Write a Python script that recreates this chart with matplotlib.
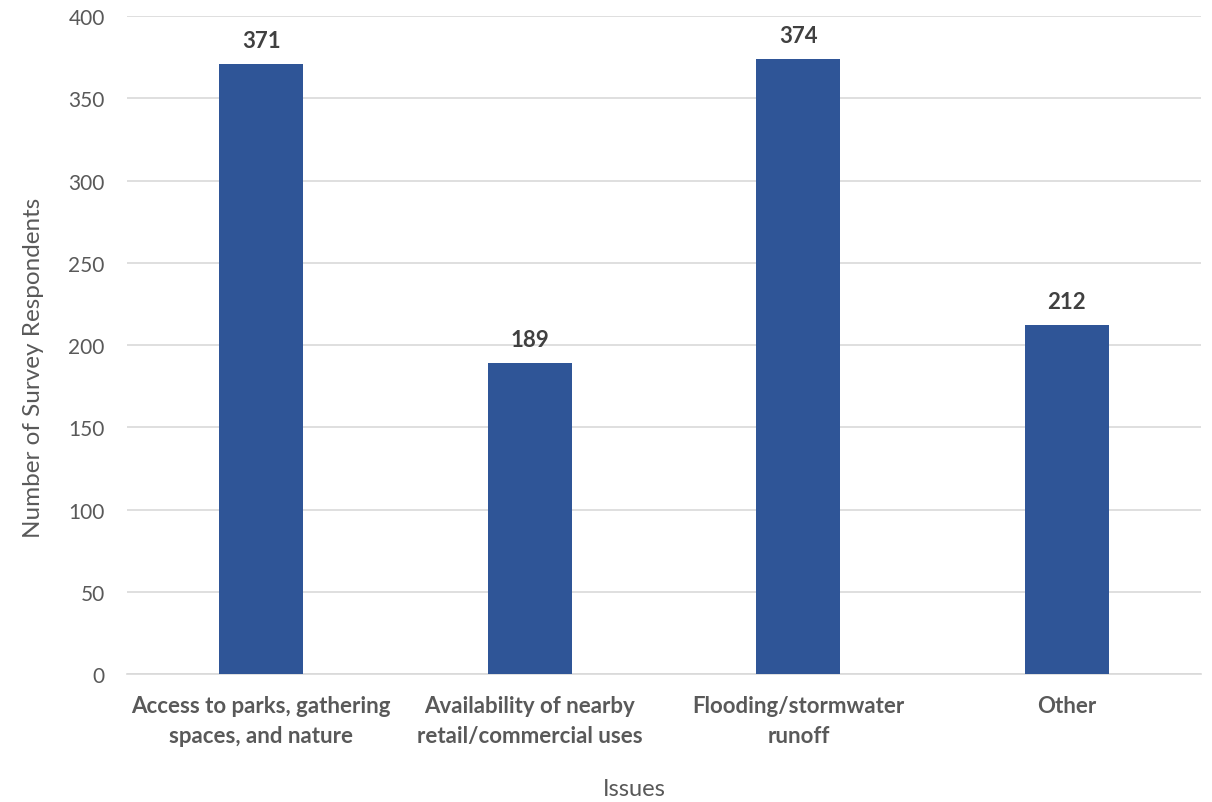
import matplotlib.pyplot as plt

categories = [
    "Access to parks, gathering\nspaces, and nature",
    "Availability of nearby\nretail/commercial uses",
    "Flooding/stormwater\nrunoff",
    "Other",
]
respondents = [371, 189, 374, 212]
y_ticks = [0, 50, 100, 150, 200, 250, 300, 350, 400]

plt.rcParams["font.family"] = ["Lato", "DejaVu Sans"]
TEXT = "#595959"

fig = plt.figure(figsize=(12.12, 8.03), dpi=100)
ax = fig.add_axes([0.1048, 0.1594, 0.8862, 0.8194])

x = range(len(categories))
bars = ax.bar(x, respondents, width=0.313, color="#2F5597", zorder=3)

for rect, val in zip(bars, respondents):
    ax.text(rect.get_x() + rect.get_width() / 2, val + 8, str(val),
            ha="center", va="bottom", fontsize=16, fontweight="bold", color="#404040")

ax.set_xlim(-0.5, len(categories) - 0.5)
ax.set_ylim(0, 400)
ax.set_yticks(y_ticks)
ax.set_xticks(list(x))
ax.set_xticklabels(categories, fontsize=16, fontweight="bold", color=TEXT, linespacing=1.55)
ax.tick_params(axis="y", labelsize=15, labelcolor=TEXT, length=0, pad=16)
ax.tick_params(axis="x", length=0, pad=15)

ax.grid(axis="y", color="#D9D9D9", linewidth=1.2, zorder=0)
for side in ["top", "right", "left"]:
    ax.spines[side].set_visible(False)
ax.spines["bottom"].set_color("#D9D9D9")
ax.spines["bottom"].set_linewidth(1.2)

ax.set_ylabel("Number of Survey Respondents", fontsize=17.5, color=TEXT)
ax.yaxis.set_label_coords(-0.0775, 0.467)
fig.text(634 / 1212, 1 - 790 / 803, "Issues", ha="center", va="center",
         fontsize=17, color=TEXT)

fig.savefig("out.png", dpi=100)
